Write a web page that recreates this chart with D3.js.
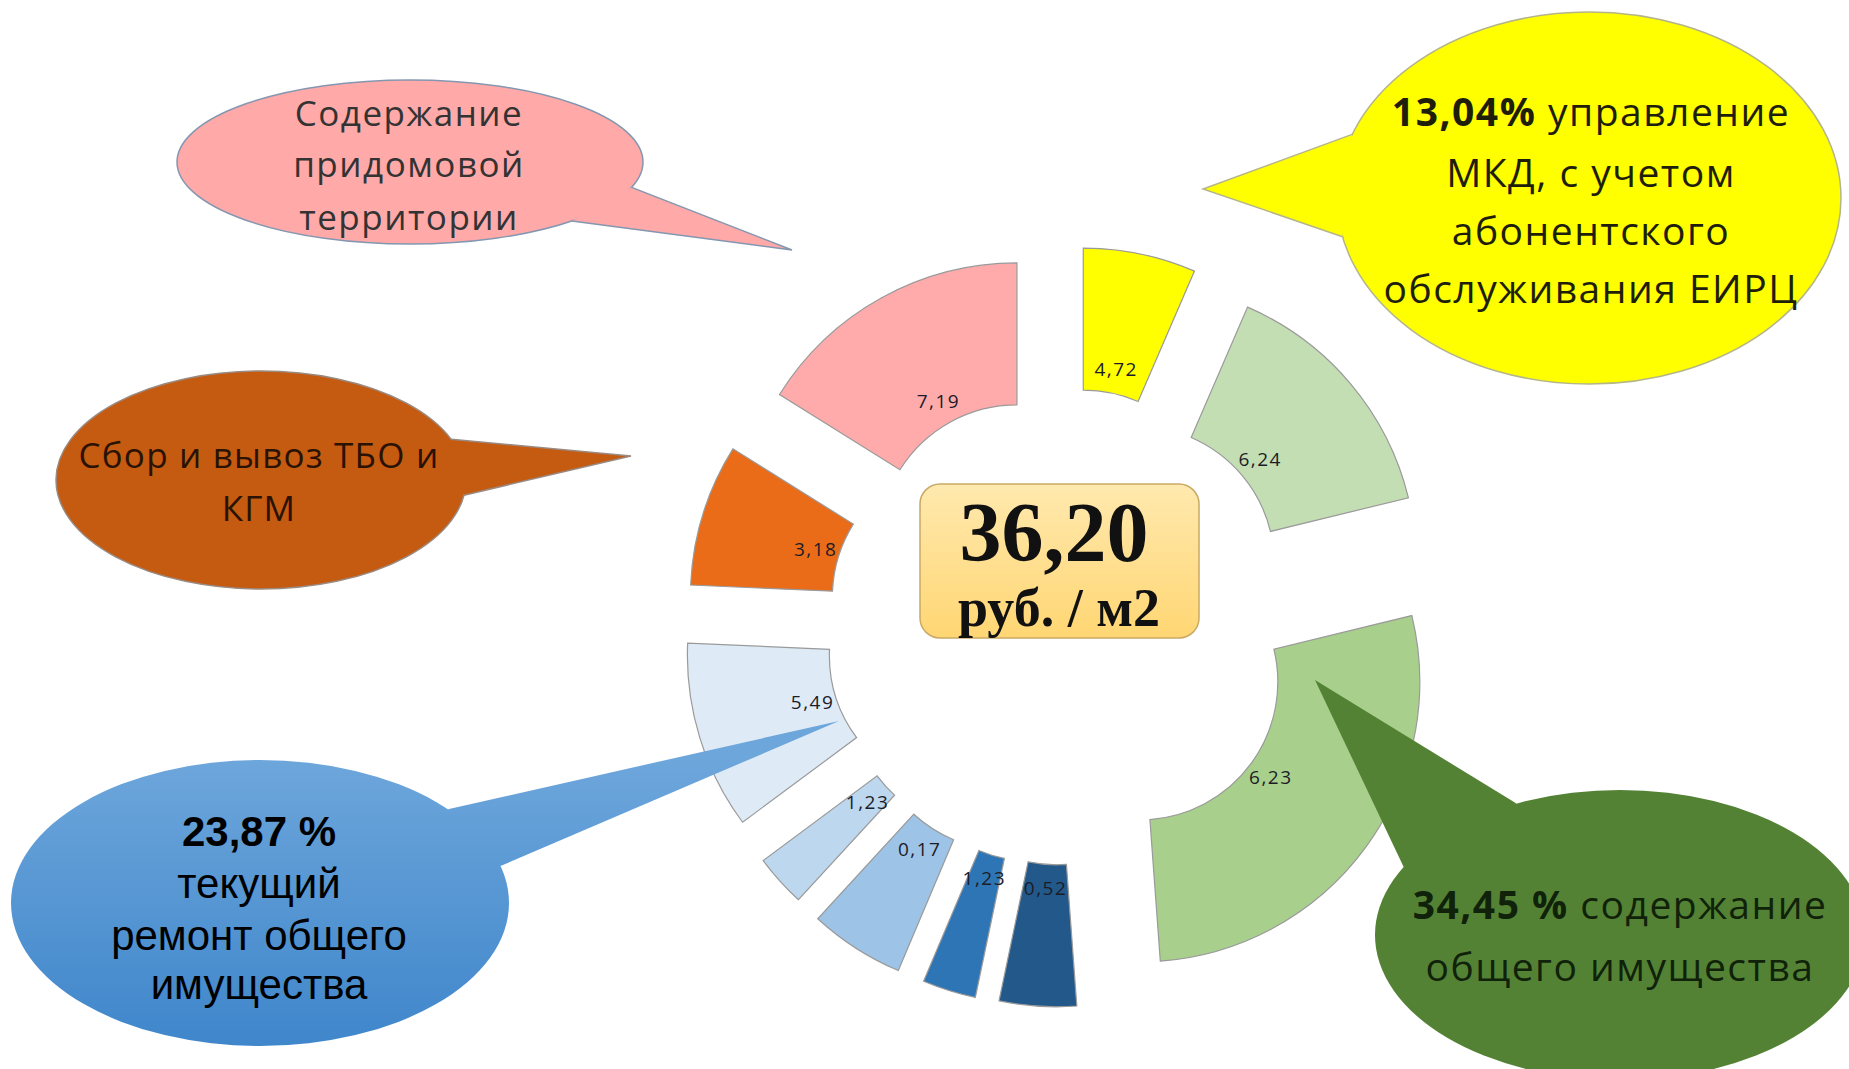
<!DOCTYPE html>
<html>
<head>
<meta charset="utf-8">
<script src="https://cdn.jsdelivr.net/npm/d3@7"></script>
<style>
  body { margin: 0; background: #fff; }
  svg { display: block; }
</style>
</head>
<body>
<svg id="chart" width="1849" height="1069"></svg>
<script>
// values printed on the slices, clockwise from 12 o'clock
const values = [4.72, 6.24, 6.23, 0.52, 1.23, 0.17, 1.23, 5.49, 3.18, 7.19];
// how much of the circle each slice takes in the picture (degrees)
const sweep = [23.4, 52.9, 99.5, 16, 11.1, 19.7, 10.8, 39.1, 29.5, 58];
const colors = ['#FFFF00', '#C4DEB3', '#A8D08C', '#23588A', '#2E75B6',
  '#9DC3E6', '#BDD7EE', '#DEEBF7', '#EB6C18', '#FFABAB'];
// explode distance of every slice (px)
const explode = [100, 96, 95, 101, 102, 103, 101, 100, 97, 95];

const total = '36,20';
const unit = 'руб. / м2';

const pinkLines = ['Содержание', 'придомовой', 'территории'];
const yellowLines = [['13,04%', ' управление'], 'МКД, с учетом', 'абонентского', 'обслуживания ЕИРЦ'];
const orangeLines = ['Сбор и вывоз ТБО и', 'КГМ'];
const blueLines = [['23,87 %', ''], 'текущий', 'ремонт общего', 'имущества'];
const greenLines = [['34,45 %', ' содержание'], 'общего имущества'];

const svg = d3.select('#chart');
const cx = 1063, cy = 626;
const inner = 138, outer = 280;

const defs = svg.append('defs');
const gBlue = defs.append('linearGradient').attr('id', 'gBlue')
  .attr('gradientUnits', 'userSpaceOnUse')
  .attr('x1', 0).attr('y1', 760).attr('x2', 0).attr('y2', 1046);
gBlue.append('stop').attr('offset', '0%').attr('stop-color', '#6DA6DB');
gBlue.append('stop').attr('offset', '100%').attr('stop-color', '#3F86CB');
const gBox = defs.append('linearGradient').attr('id', 'gBox')
  .attr('x1', 0).attr('y1', 0).attr('x2', 0).attr('y2', 1);
gBox.append('stop').attr('offset', '0%').attr('stop-color', '#FFE9AE');
gBox.append('stop').attr('offset', '100%').attr('stop-color', '#FFD673');

const data = values.map((v, i) => ({ value: v, sweep: sweep[i], color: colors[i], off: explode[i] }));

const pie = d3.pie().sort(null).value(d => d.sweep);
const arc = d3.arc().innerRadius(inner).outerRadius(outer);
const labelArc = d3.arc().innerRadius(162).outerRadius(162);
const fmt = v => d3.format('.2f')(v).replace('.', ',');

const slices = svg.append('g')
  .selectAll('g')
  .data(pie(data))
  .enter()
  .append('g')
  .attr('transform', d => {
    const mid = (d.startAngle + d.endAngle) / 2;
    return 'translate(' + (cx + Math.sin(mid) * d.data.off) + ',' + (cy - Math.cos(mid) * d.data.off) + ')';
  });

slices.append('path')
  .attr('d', arc)
  .style('fill', d => d.data.color)
  .style('stroke', '#9a9a9a')
  .style('stroke-width', 1.2);

slices.append('text')
  .attr('transform', d => 'translate(' + labelArc.centroid(d) + ')')
  .attr('text-anchor', 'middle')
  .attr('dy', '0.35em')
  .style('font-family', 'Open Sans, sans-serif')
  .style('font-size', '19px')
  .style('letter-spacing', '1.5px')
  .style('fill', '#1c1c28')
  .text(d => fmt(d.data.value));

// centre box
svg.append('rect')
  .attr('x', 920).attr('y', 484).attr('width', 279).attr('height', 154)
  .attr('rx', 20)
  .style('fill', 'url(#gBox)')
  .style('stroke', '#C9A965')
  .style('stroke-width', 1.5);
svg.append('text')
  .attr('x', 1054).attr('y', 561)
  .attr('text-anchor', 'middle')
  .style('font-family', 'Liberation Serif, serif')
  .style('font-weight', 'bold')
  .style('font-size', '84px')
  .style('fill', '#111')
  .text(total);
svg.append('text')
  .attr('x', 1059).attr('y', 626)
  .attr('text-anchor', 'middle')
  .style('font-family', 'Liberation Serif, serif')
  .style('font-weight', 'bold')
  .style('font-size', '54px')
  .style('fill', '#111')
  .text(unit);

// speech bubbles
function bubble(o) {
  const g = svg.append('g');
  g.append('ellipse')
    .attr('cx', o.cx).attr('cy', o.cy).attr('rx', o.rx).attr('ry', o.ry)
    .style('fill', o.fill)
    .style('stroke', o.stroke || 'none')
    .style('stroke-width', 1.5);
  const pt = a => {
    const t = a * Math.PI / 180;
    return [o.cx + o.rx * Math.cos(t), o.cy + o.ry * Math.sin(t)];
  };
  const b1 = pt(o.base[0]), b2 = pt(o.base[1]);
  g.append('path')
    .attr('d', 'M' + b1 + 'L' + o.tip + 'L' + b2)
    .style('fill', o.fill)
    .style('stroke', o.stroke || 'none')
    .style('stroke-width', 1.5);
  const txt = g.append('text')
    .attr('text-anchor', 'middle')
    .style('font-family', o.font)
    .style('font-size', o.size + 'px')
    .style('letter-spacing', (o.spacing || 0) + 'px')
    .style('fill', o.color);
  o.lines.forEach((line, i) => {
    const t = txt.append('tspan')
      .attr('x', o.tx)
      .attr('y', o.ty[i])
      .attr('dy', '0.35em');
    if (Array.isArray(line)) {
      t.append('tspan').style('font-weight', 'bold').text(line[0]);
      if (line[1]) t.append('tspan').text(line[1]);
    } else {
      t.text(line);
    }
  });
}

bubble({
  cx: 410, cy: 162, rx: 233, ry: 82, fill: '#FFA9A9', stroke: '#8497B0',
  base: [18, 46], tip: [792, 250],
  lines: pinkLines, tx: 409, ty: [114, 165, 218],
  font: 'Open Sans, sans-serif', size: 35, spacing: 1.5, color: '#333'
});
bubble({
  cx: 1589, cy: 198, rx: 252, ry: 186, fill: '#FFFF00', stroke: '#B5B58A',
  base: [168, 200], tip: [1203, 189],
  lines: yellowLines, tx: 1591, ty: [112, 173, 231, 289],
  font: 'Open Sans, sans-serif', size: 39, spacing: 1.5, color: '#1e1e0a'
});
bubble({
  cx: 261, cy: 480, rx: 205, ry: 109, fill: '#C55A11', stroke: '#9A8A80',
  base: [-22, 8], tip: [631, 456],
  lines: orangeLines, tx: 259, ty: [456, 509],
  font: 'Open Sans, sans-serif', size: 35, spacing: 1.2, color: '#2a1204'
});
bubble({
  cx: 260, cy: 903, rx: 249, ry: 143, fill: 'url(#gBlue)',
  base: [-41, -15], tip: [839, 721],
  lines: blueLines, tx: 259, ty: [831, 883, 935, 984],
  font: 'Liberation Sans, Arial, sans-serif', size: 42, spacing: 0, color: '#000'
});
bubble({
  cx: 1620, cy: 935, rx: 245, ry: 145, fill: '#548235',
  base: [208, 245], tip: [1315, 680],
  lines: greenLines, tx: 1620, ty: [905, 967],
  font: 'Open Sans, sans-serif', size: 39, spacing: 1.5, color: '#10220a'
});
</script>
</body>
</html>
